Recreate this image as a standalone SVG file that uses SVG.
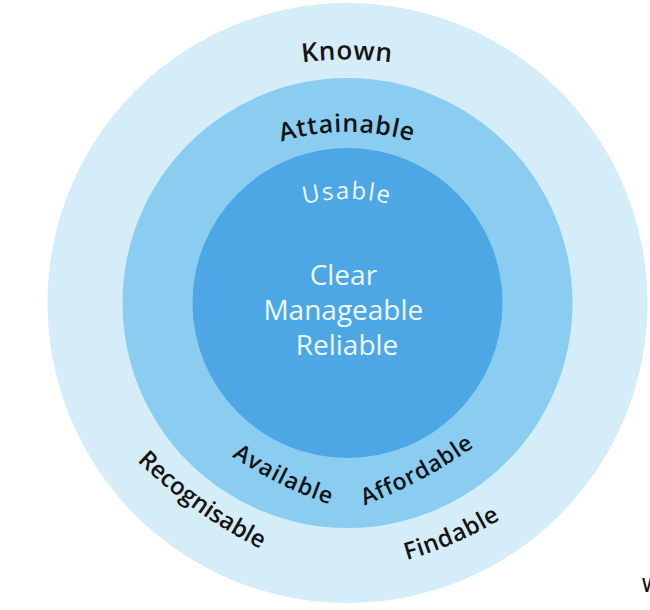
<svg xmlns="http://www.w3.org/2000/svg" width="650" height="610" viewBox="0 0 650 610">
  <style>
    .dark { font-family: "Open Sans", "Liberation Sans", sans-serif; fill: #141414; font-weight: 600; }
    .light { font-family: "Open Sans", "Liberation Sans", sans-serif; fill: #eef8ff; }
  </style>
  <defs>
    <path id="pKnown" d="M 197 93.3 A 350 350 0 0 1 497 93.3"/>
    <path id="pAttain" d="M 197 187.6 A 230 230 0 0 1 497 187.6"/>
    <path id="pUsable" d="M 247 229.3 A 180 180 0 0 1 447 229.3"/>
    <path id="pAvail" d="M 225 452 Q 285 492 342 508"/>
    <path id="pAfford" d="M 358 508 Q 428 482 492 434"/>
    <path id="pRecog" d="M 130 454 Q 192 517 275 556"/>
    <path id="pFind" d="M 400 562 Q 460 546 512 512"/>
  </defs>
  <rect width="650" height="610" fill="#ffffff"/>
  <g id="ring-known">
    <circle cx="347.5" cy="303" r="300" fill="#d4edf9"/>
  </g>
  <g id="ring-attainable">
    <circle cx="347.5" cy="303" r="225" fill="#8acdf1"/>
  </g>
  <g id="ring-usable">
    <circle cx="347.5" cy="303" r="155" fill="#4ca7e4"/>
  </g>
  <g id="connectors"></g>
  <g id="label-known">
    <text class="dark" font-size="26" letter-spacing="0.6"><textPath href="#pKnown" startOffset="50%" text-anchor="middle">Known</textPath></text>
  </g>
  <g id="label-attainable">
    <text class="dark" font-size="25" letter-spacing="0.8"><textPath href="#pAttain" startOffset="50%" text-anchor="middle">Attainable</textPath></text>
  </g>
  <g id="label-usable">
    <text class="light" font-size="24" letter-spacing="1.8"><textPath href="#pUsable" startOffset="50%" text-anchor="middle">Usable</textPath></text>
  </g>
  <g id="label-center">
    <text class="light" font-size="28" text-anchor="middle">
      <tspan x="347" y="285">Clear</tspan>
      <tspan x="347" y="320">Manageable</tspan>
      <tspan x="347" y="355">Reliable</tspan>
    </text>
  </g>
  <g id="label-available">
    <text class="dark" font-size="23" letter-spacing="1"><textPath href="#pAvail" startOffset="8">Available</textPath></text>
  </g>
  <g id="label-affordable">
    <text class="dark" font-size="23" letter-spacing="0.8"><textPath href="#pAfford" startOffset="7">Affordable</textPath></text>
  </g>
  <g id="label-recognisable">
    <text class="dark" font-size="24" letter-spacing="0"><textPath href="#pRecog" startOffset="10">Recognisable</textPath></text>
  </g>
  <g id="label-findable">
    <text class="dark" font-size="24" letter-spacing="0.5"><textPath href="#pFind" startOffset="7">Findable</textPath></text>
  </g>
  <g id="label-edge">
    <text class="dark" x="642" y="592" font-size="19" font-weight="400">W</text>
  </g>
</svg>
